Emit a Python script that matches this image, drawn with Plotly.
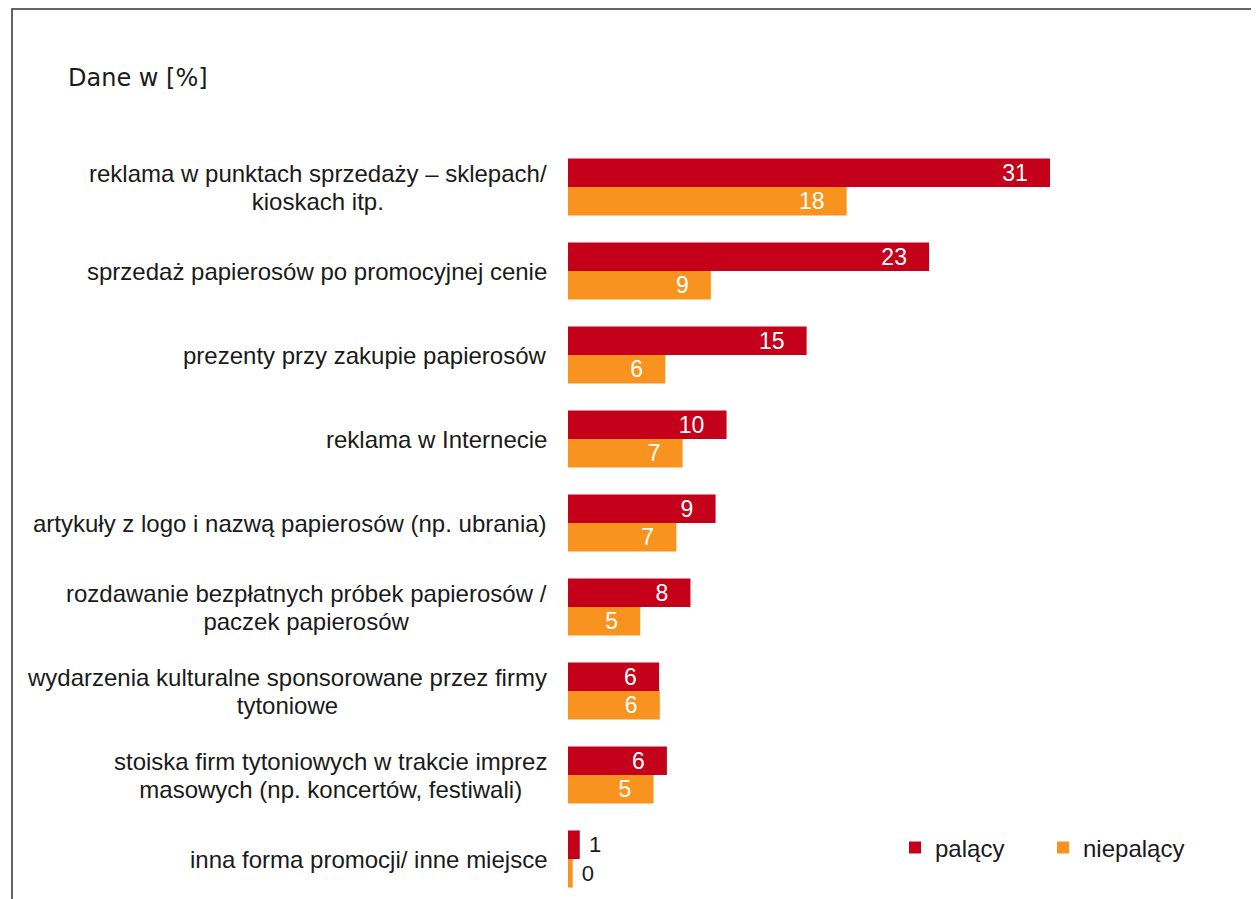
import plotly.graph_objects as go

categories = [
    "reklama w punktach sprzedaży – sklepach/<br>kioskach itp.",
    "sprzedaż papierosów po promocyjnej cenie",
    "prezenty przy zakupie papierosów",
    "reklama w Internecie",
    "artykuły z logo i nazwą papierosów (np. ubrania)",
    "rozdawanie bezpłatnych próbek papierosów /<br>paczek papierosów",
    "wydarzenia kulturalne sponsorowane przez firmy<br>tytoniowe",
    "stoiska firm tytoniowych w trakcie imprez<br>masowych (np. koncertów, festiwali)",
    "inna forma promocji/ inne miejsce",
]
palacy_values = [30.7, 23.0, 15.2, 10.1, 9.4, 7.8, 5.8, 6.3, 0.75]
niepalacy_values = [17.75, 9.1, 6.2, 7.3, 6.9, 4.6, 5.85, 5.45, 0.3]
palacy_labels = ["31", "23", "15", "10", "9", "8", "6", "6", "1"]
niepalacy_labels = ["18", "9", "6", "7", "7", "5", "6", "5", "0"]
series_names = ["palący", "niepalący"]

RED = "#C4001A"
ORANGE = "#F7931E"
OFF = 8  # page body margin
W, H = 1259, 899
L, R, T, B = 568 - OFF, 20, 100 - OFF, 0
plot_w = W - L - R
plot_h = H - T - B
PX_PER_UNIT = 15.7


def px_to_paper_x(px):
    return (px - OFF - L) / plot_w


def px_to_paper_y(py):
    return (H - B - (py - OFF)) / plot_h


def positions(vals):
    return ["inside" if v >= 3 else "outside" for v in vals]


NB = "\u00a0"
fig = go.Figure()
for name, vals, labs, col in [
    (series_names[0], palacy_values, palacy_labels, RED),
    (series_names[1], niepalacy_values, niepalacy_labels, ORANGE),
]:
    fig.add_trace(go.Bar(
        y=categories, x=vals, orientation="h", name=name,
        marker=dict(color=col, line=dict(width=0)),
        text=labs,
        texttemplate=[("%{text}" + NB * 3) if p == "inside" else (NB + "%{text}") for p in positions(vals)],
        textposition=positions(vals),
        insidetextanchor="end",
        constraintext="none",
        insidetextfont=dict(family="Liberation Sans, Arial", size=23, color="white"),
        outsidetextfont=dict(family="Liberation Sans, Arial", size=22, color="#1a1a1a"),
        cliponaxis=False,
        hoverinfo="skip",
    ))

# category labels, centered multi-line text right-aligned to the bars
for c in categories:
    fig.add_annotation(
        x=px_to_paper_x(549), xref="paper", xanchor="right",
        y=c, yref="y", yanchor="middle",
        text='<span style="font-size:24px">' + c.replace("<br>", '</span><br><span style="font-size:24px">') + "</span>",
        showarrow=False, align="center",
        font=dict(family="Liberation Sans, Arial", size=21.5, color="#1a1a1a"),
    )

fig.add_annotation(
    x=px_to_paper_x(66), xref="paper", xanchor="left",
    y=px_to_paper_y(78), yref="paper", yanchor="middle",
    text="Dane w [%]", showarrow=False,
    font=dict(family="DejaVu Sans", size=24, color="#1a1a1a"),
)

# outer frame (extends past right and bottom edges)
fig.add_shape(
    type="rect", xref="paper", yref="paper",
    x0=px_to_paper_x(12), x1=px_to_paper_x(1320),
    y0=px_to_paper_y(960), y1=px_to_paper_y(9),
    line=dict(color="#333333", width=1.5), fillcolor="rgba(0,0,0,0)", layer="below",
)

y_top = -(187 - OFF - T) / 84.0
y_bot = 8 + (H - B - (859 - OFF)) / 84.0

fig.update_layout(
    width=W, height=H,
    margin=dict(l=L, r=R, t=T, b=B),
    paper_bgcolor="white", plot_bgcolor="white",
    barmode="group", bargap=0.32, bargroupgap=0.0,
    showlegend=True,
    legend=dict(
        orientation="h", x=px_to_paper_x(895), xanchor="left",
        y=px_to_paper_y(848), yanchor="middle",
        font=dict(family="Liberation Sans, Arial", size=24, color="#1a1a1a"),
        bgcolor="rgba(0,0,0,0)", entrywidth=103, entrywidthmode="pixels",
        traceorder="normal",
    ),
    xaxis=dict(range=[0, plot_w / PX_PER_UNIT], visible=False, fixedrange=True),
    yaxis=dict(range=[y_bot, y_top], showticklabels=False, showgrid=False,
               zeroline=False, showline=False, ticks="", fixedrange=True,
               categoryorder="array", categoryarray=categories),
)

fig.write_html("out.html")
